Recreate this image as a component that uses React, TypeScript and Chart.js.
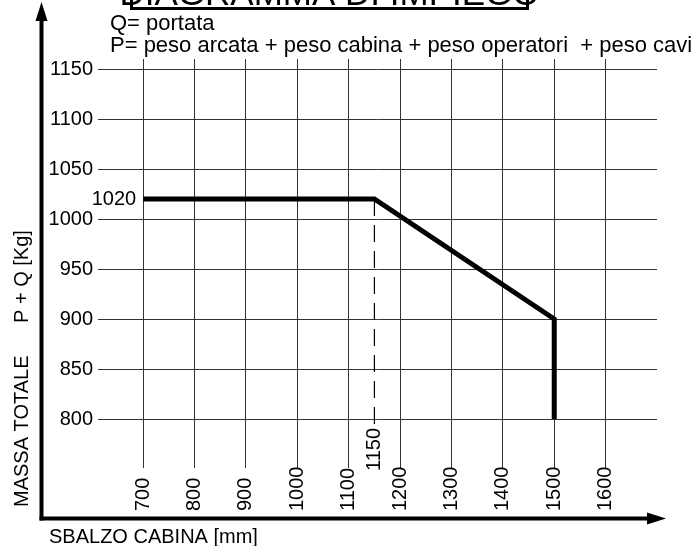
import React, { useEffect, useRef } from "react";
import { Chart, registerables } from "chart.js";

Chart.register(...registerables);

// ---- data ----
const curveX = [700, 1150, 1500, 1500];
const curveY = [1020, 1020, 900, 800];
const dashX = [1150, 1150];
const dashY = [1020, 791];
const xTicks = [700, 800, 900, 1000, 1100, 1200, 1300, 1400, 1500, 1600];
const yTicks = [800, 850, 900, 950, 1000, 1050, 1100, 1150];
const markXLabel = [1150];
const markYLabel = [1020];
const titleText = "DIAGRAMMA DI IMPIEGO";
const noteLines = ["Q= portata", "P= peso arcata + peso cabina + peso operatori  + peso cavi"];
const yTitleParts = ["MASSA TOTALE", "P + Q [Kg]"];
const xTitleText = "SBALZO CABINA [mm]";

const FONT = '"Liberation Sans", Arial, Helvetica, sans-serif';

const overlay = {
  id: "overlay",
  afterDraw(chart: any) {
    const ctx: CanvasRenderingContext2D = chart.ctx;
    const xs = chart.scales.x;
    const ys = chart.scales.y;
    const area = chart.chartArea;
    ctx.save();
    ctx.fillStyle = "#000";
    ctx.strokeStyle = "#000";

    // y tick labels
    ctx.font = `20px ${FONT}`;
    ctx.textAlign = "right";
    ctx.textBaseline = "middle";
    yTicks.forEach((v) => ctx.fillText(String(v), area.left - 5, ys.getPixelForValue(v)));

    // 1020 label at start of curve
    ctx.fillText(
      String(markYLabel[0]),
      xs.getPixelForValue(curveX[0]) - 7,
      ys.getPixelForValue(markYLabel[0])
    );

    // x tick labels (rotated, reading bottom to top)
    const drawRot = (txt: string, x: number, y: number) => {
      ctx.save();
      ctx.translate(x, y);
      ctx.rotate(-Math.PI / 2);
      ctx.textAlign = "left";
      ctx.textBaseline = "middle";
      ctx.fillText(txt, 0, 0);
      ctx.restore();
    };
    xTicks.forEach((v) => drawRot(String(v), xs.getPixelForValue(v), area.bottom + 43));
    drawRot(String(markXLabel[0]), xs.getPixelForValue(markXLabel[0]), area.bottom + 3);

    // axis arrows
    ctx.lineWidth = 4;
    ctx.beginPath();
    ctx.moveTo(41.5, 520.5);
    ctx.lineTo(41.5, 16);
    ctx.stroke();
    ctx.beginPath();
    ctx.moveTo(35.5, 21);
    ctx.lineTo(47.5, 21);
    ctx.lineTo(41.5, 2);
    ctx.closePath();
    ctx.fill();

    ctx.beginPath();
    ctx.moveTo(39.5, 518.5);
    ctx.lineTo(650, 518.5);
    ctx.stroke();
    ctx.beginPath();
    ctx.moveTo(647, 512.5);
    ctx.lineTo(647, 524.5);
    ctx.lineTo(666, 518.5);
    ctx.closePath();
    ctx.fill();

    // axis titles
    ctx.font = `20px ${FONT}`;
    ctx.save();
    ctx.translate(28, 507);
    ctx.rotate(-Math.PI / 2);
    ctx.textAlign = "left";
    ctx.textBaseline = "alphabetic";
    ctx.fillText(yTitleParts[0], 0, 0);
    ctx.fillText(yTitleParts[1], 184, 0);
    ctx.restore();

    ctx.font = `20px ${FONT}`;
    ctx.textAlign = "left";
    ctx.textBaseline = "alphabetic";
    ctx.fillText(xTitleText, 49, 543);

    // notes
    ctx.font = `22px ${FONT}`;
    ctx.fillText(noteLines[0], 110, 30);
    ctx.fillText(noteLines[1], 110, 52);

    // title box (cut by the top edge)
    ctx.lineWidth = 3;
    ctx.strokeRect(131.5, -40, 396, 48.5);
    ctx.font = `35px ${FONT}`;
    ctx.textAlign = "center";
    ctx.fillText(titleText, 329.5, 5);

    ctx.restore();
  },
};

export default function App() {
  const ref = useRef<HTMLCanvasElement | null>(null);

  useEffect(() => {
    if (!ref.current) return;
    const chart = new Chart(ref.current, {
      type: "scatter",
      data: {
        datasets: [
          {
            data: curveX.map((x, i) => ({ x, y: curveY[i] })),
            showLine: true,
            borderColor: "#000",
            borderWidth: 5,
            pointRadius: 0,
            tension: 0,
            borderJoinStyle: "miter",
          },
          {
            data: dashX.map((x, i) => ({ x, y: dashY[i] })),
            showLine: true,
            borderColor: "#000",
            borderWidth: 1.2,
            borderDash: [17, 9],
            pointRadius: 0,
          },
        ],
      },
      options: {
        responsive: false,
        animation: false,
        devicePixelRatio: 1,
        layout: { padding: { left: 98, right: 37, top: 59, bottom: 78 } },
        plugins: { legend: { display: false }, tooltip: { enabled: false }, title: { display: false } },
        scales: {
          x: {
            type: "linear",
            min: 612,
            max: 1700,
            afterBuildTicks: (s: any) => {
              s.ticks = xTicks.map((v) => ({ value: v }));
            },
            afterFit: (s: any) => {
              s.height = 0;
            },
            ticks: { display: false },
            border: { display: false },
            grid: { color: "#333", lineWidth: 1, drawTicks: false },
          },
          y: {
            type: "linear",
            min: 751,
            max: 1160,
            afterBuildTicks: (s: any) => {
              s.ticks = yTicks.map((v) => ({ value: v }));
            },
            afterFit: (s: any) => {
              s.width = 0;
            },
            ticks: { display: false },
            border: { display: false },
            grid: { color: "#333", lineWidth: 1, drawTicks: false },
          },
        },
      },
      plugins: [overlay],
    });
    return () => chart.destroy();
  }, []);

  return (
    <div style={{ position: "absolute", left: 0, top: 0, width: 694, height: 546, background: "#fff" }}>
      <canvas ref={ref} width={694} height={546} style={{ display: "block" }} />
    </div>
  );
}
